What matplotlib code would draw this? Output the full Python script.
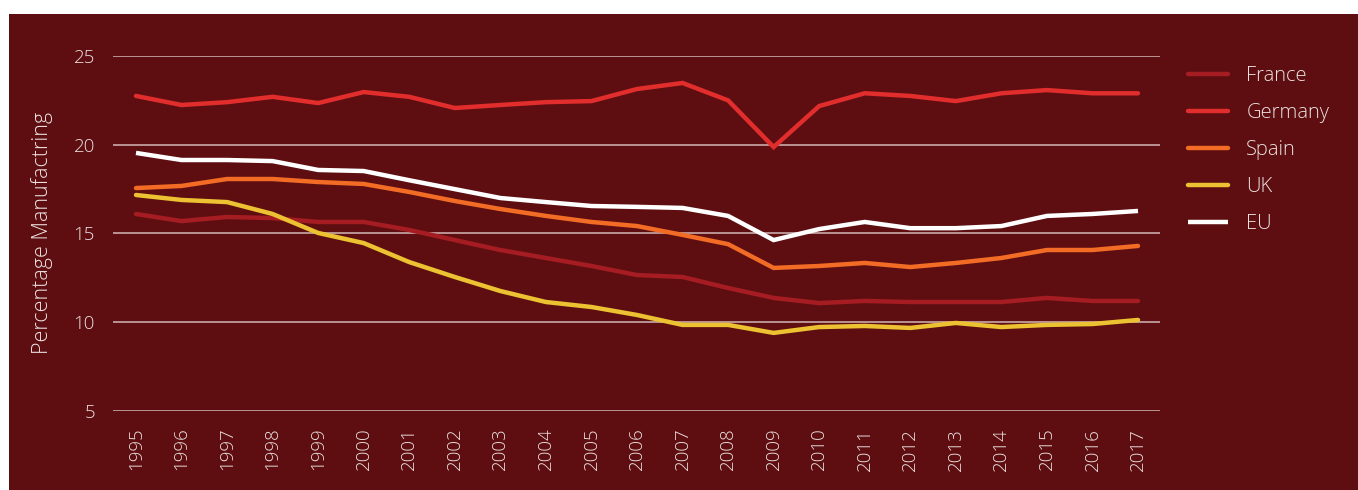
import matplotlib.pyplot as plt
from matplotlib.patches import Rectangle

# Share of manufacturing in the economy, 1995-2017
years = list(range(1995, 2018))
france = [16.1, 15.7, 15.93, 15.87, 15.65, 15.65, 15.2, 14.63, 14.07, 13.62, 13.17, 12.66,
          12.55, 11.93, 11.37, 11.08, 11.2, 11.14, 11.14, 11.14, 11.37, 11.2, 11.2]
germany = [22.75, 22.24, 22.4, 22.7, 22.35, 22.97, 22.7, 22.07, 22.24, 22.4, 22.46, 23.14,
           23.48, 22.5, 19.87, 22.18, 22.9, 22.75, 22.46, 22.9, 23.08, 22.9, 22.9]
spain = [17.56, 17.68, 18.07, 18.07, 17.9, 17.79, 17.34, 16.83, 16.38, 15.99, 15.65, 15.42,
         14.92, 14.4, 13.06, 13.17, 13.34, 13.11, 13.34, 13.62, 14.07, 14.07, 14.3]
uk = [17.17, 16.89, 16.77, 16.1, 15.03, 14.46, 13.39, 12.55, 11.76, 11.14, 10.86, 10.41,
      9.85, 9.85, 9.4, 9.73, 9.79, 9.68, 9.96, 9.73, 9.85, 9.9, 10.13]
eu = [19.54, 19.14, 19.14, 19.08, 18.58, 18.52, 18.0, 17.5, 17.0, 16.77, 16.55, 16.5,
      16.44, 15.99, 14.63, 15.25, 15.65, 15.3, 15.3, 15.42, 15.99, 16.1, 16.27]
yticks = [5, 10, 15, 20, 25]

bg = '#5e0e10'
txt = '#ece2e2'
W, H = 1358, 490

plt.rcParams['font.family'] = ['Open Sans', 'DejaVu Sans']
plt.rcParams['font.weight'] = 300

fig = plt.figure(figsize=(W / 100, H / 100), dpi=100)
fig.patch.set_facecolor('white')
fig.patches.append(Rectangle((9 / W, 0), 1, 1 - 14 / H, transform=fig.transFigure,
                             facecolor=bg, edgecolor='none', zorder=-10))

ax = fig.add_axes([113 / W, 1 - 411 / H, (1160 - 113) / W, (411 - 56) / H])
ax.set_facecolor(bg)
ax.patch.set_alpha(0)

series = [('France', france, '#a51c22'), ('Germany', germany, '#e22d2d'),
          ('Spain', spain, '#f26c25'), ('UK', uk, '#ecc132'), ('EU', eu, '#ffffff')]
for name, vals, col in series:
    cap = 'butt' if name == 'EU' else 'round'
    ax.plot(years, vals, color=col, lw=3.2, label=name, solid_capstyle=cap,
            solid_joinstyle='miter')

ax.set_xlim(1995 - 23 / 45.55, 2017 + 22 / 45.55)
ax.set_ylim(5, 25)
ax.set_yticks(yticks)
ax.set_xticks(years)
ax.set_xticklabels([str(y) for y in years], rotation=90)
ax.grid(axis='y', color='#c9a9a9', lw=1.2)
ax.set_axisbelow(True)
for s in ax.spines.values():
    s.set_visible(False)
ax.tick_params(axis='y', length=0, pad=13, labelsize=13.5, labelcolor=txt)
ax.tick_params(axis='x', length=0, pad=12, labelsize=13.5, labelcolor=txt)

fig.text(42 / W, 1 - 233 / H, 'Percentage Manufactring', rotation=90, ha='center',
         va='center', color=txt, fontsize=15.5)

leg = ax.legend(loc='upper left', bbox_to_anchor=(1188 / W, 1 - 66 / H),
                bbox_transform=fig.transFigure, frameon=False, fontsize=14.5,
                labelcolor=txt, handlelength=2.0, handletextpad=0.9,
                labelspacing=0.85, borderpad=0, borderaxespad=0)

fig.savefig('out.png', dpi=100, facecolor=fig.get_facecolor())
